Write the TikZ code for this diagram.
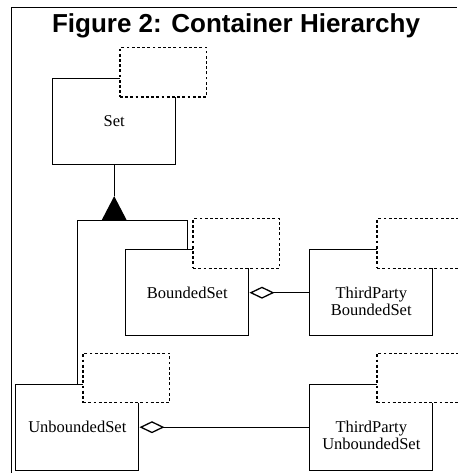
\documentclass[tikz,border=0pt]{standalone}
\usepackage{fontspec}
\setmainfont{Liberation Serif}
\newfontfamily\headfont{Liberation Sans}
\usetikzlibrary{arrows.meta}
\tikzset{
  cls/.style={draw, minimum width=123pt, minimum height=86pt, inner sep=0pt,
    font=\fontsize{16.5}{17}\selectfont, align=center},
  lbl/.style={font=\fontsize{16.5}{17}\selectfont, align=center},
  tparam/.style={draw, fill=white, dash pattern=on 2.8pt off 2.4pt,
    minimum width=86.5pt, minimum height=49.5pt, inner sep=0pt, anchor=north west},
  agg/.style={{Diamond[open, length=25pt, width=12pt]}-}
}
\begin{document}
\begin{tikzpicture}[x=1pt, y=-1pt, line width=1.3pt]
\useasboundingbox (0,0) rectangle (457,473);
\draw[line width=1pt] (11.5,473) -- (11.5,7.3) -- (457,7.3);
\node[font=\headfont\bfseries\fontsize{26}{30}\selectfont, anchor=base] (title) at (236,32.3) {Figure 2: Container Hierarchy};

\node[cls] (set) at (114.2,121.5) {Set};
\node[cls] (bounded) at (187.3,292.7) {BoundedSet};
\node[cls] (tpbounded) at (371.3,292.7) {};
\node[cls] (unbounded) at (77.3,427.2) {UnboundedSet};
\node[cls] (tpunbounded) at (371.3,427.2) {};
\node[lbl] (tpbounded-l) at ([yshift=-8.5pt]tpbounded.center) {ThirdParty\\BoundedSet};
\node[lbl] (tpunbounded-l) at ([yshift=-8.5pt]tpunbounded.center) {ThirdParty\\UnboundedSet};

\foreach \c in {set,bounded,tpbounded,unbounded,tpunbounded}
    \node[tparam] (\c-t) at ([xshift=67.3pt,yshift=31pt]\c.north west) {};

\coordinate (apex) at ([yshift=-31pt]set.south);
\coordinate (fork) at ([yshift=-24pt]apex);
\draw (set) -- (apex);
\fill (apex) -- ([xshift=-12.5pt]fork) -- ([xshift=12.5pt]fork) -- cycle;
\draw (unbounded.north) -- (unbounded.north |- fork) -- (bounded.north |- fork) -- (bounded.north);

\draw[agg] (bounded) -- (tpbounded);
\draw[agg] (unbounded) -- (tpunbounded);
\end{tikzpicture}
\end{document}
